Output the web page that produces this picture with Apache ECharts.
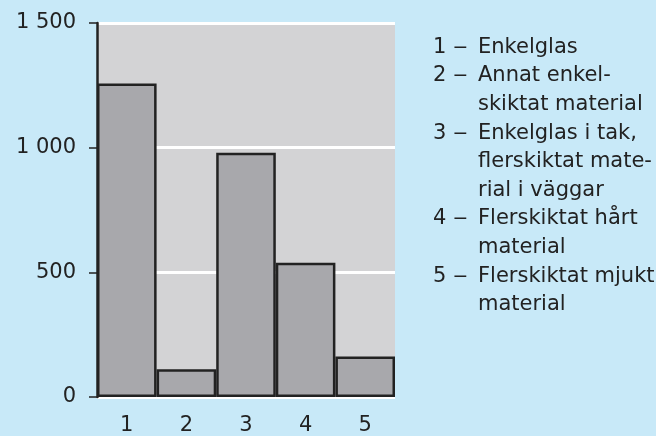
<!DOCTYPE html>
<html>
<head>
<meta charset="utf-8">
<script src="https://cdn.jsdelivr.net/npm/echarts@6/dist/echarts.min.js"></script>
<style>
html,body{margin:0;padding:0;background:#c8e9f8;}
#chart{width:656px;height:436px;}
</style>
</head>
<body>
<div id="chart"></div>
<script>
var categories = ['1', '2', '3', '4', '5'];
var values = [1257, 111, 980, 538, 162];
var yTicks = [0, 500, 1000, 1500];
var legendNumbers = ['1', '2', '', '3', '', '', '4', '', '5', ''];
var legendLines = ['Enkelglas', 'Annat enkel-', 'skiktat material', 'Enkelglas i tak,', 'flerskiktat mate-', 'rial i väggar', 'Flerskiktat hårt', 'material', 'Flerskiktat mjukt', 'material'];

var FONT = '"DejaVu Sans", "Liberation Sans", Arial, sans-serif';
var chart = echarts.init(document.getElementById('chart'));

var graphics = [];
var y0 = 47.3, dy = 28.6;
for (var i = 0; i < legendLines.length; i++) {
  var y = y0 + i * dy;
  if (legendNumbers[i]) {
    graphics.push({type: 'text', x: 433, y: y, style: {text: legendNumbers[i], font: '21px ' + FONT, fill: '#222', verticalAlign: 'middle'}});
    graphics.push({type: 'text', x: 453, y: y, scaleX: 1.4, style: {text: '–', font: '21px ' + FONT, fill: '#222', verticalAlign: 'middle'}});
  }
  graphics.push({type: 'text', x: 478, y: y, style: {text: legendLines[i], font: '21px ' + FONT, fill: '#222', verticalAlign: 'middle'}});
}

chart.setOption({
  backgroundColor: '#c8e9f8',
  animation: false,
  grid: {left: 97, right: 261, top: 23, bottom: 39, show: true, backgroundColor: '#d3d3d5', borderWidth: 0},
  xAxis: {
    type: 'category',
    data: categories,
    axisLine: {show: false},
    axisTick: {show: false},
    axisLabel: {color: '#222', fontSize: 21, fontFamily: FONT, margin: 18}
  },
  yAxis: {
    type: 'value',
    min: yTicks[0],
    max: yTicks[yTicks.length - 1],
    interval: 500,
    axisLine: {show: true, lineStyle: {color: '#222', width: 2.5}},
    axisTick: {show: true, length: 8, lineStyle: {color: '#222', width: 1.5}},
    axisLabel: {
      color: '#222', fontSize: 21, fontFamily: FONT, margin: 21,
      formatter: function (v) { return String(v).replace(/\B(?=(\d{3})+(?!\d))/g, ' '); }
    },
    splitLine: {show: true, lineStyle: {color: '#ffffff', width: 3}}
  },
  series: [{
    type: 'bar',
    data: values,
    barCategoryGap: '0%',
    itemStyle: {color: '#a8a8ac', borderColor: '#222', borderWidth: 2.5}
  }],
  graphic: graphics
});
</script>
</body>
</html>
